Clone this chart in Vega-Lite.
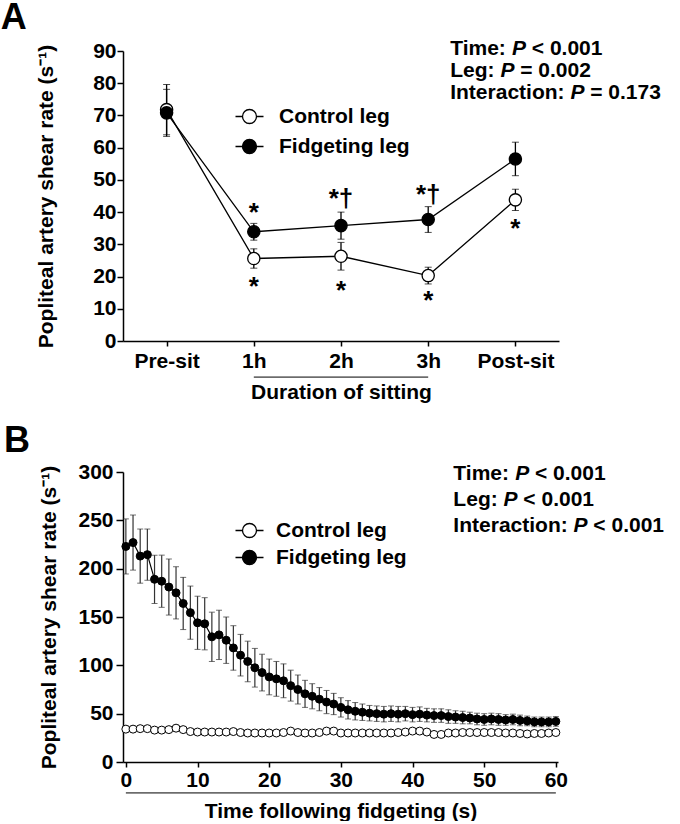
{
  "$schema": "https://vega.github.io/schema/vega-lite/v6.json",
  "background": "white",
  "padding": {"left": 0, "top": 0, "right": 0, "bottom": 0},
  "spacing": 21,
  "config": {
    "font": "Liberation Sans",
    "view": {"stroke": null},
    "axis": {
      "labelFont": "Liberation Sans", "labelFontWeight": "bold", "labelFontSize": 21, "labelColor": "black",
      "titleFont": "Liberation Sans", "titleFontWeight": "bold", "titleFontSize": 21, "titleColor": "black",
      "domainColor": "black", "domainWidth": 1.5, "tickColor": "black", "tickWidth": 1.5, "grid": false,
      "labelOverlap": false, "labelFlush": false
    },
    "legend": {
      "orient": "none", "title": null, "padding": 0,
      "symbolType": "M-2,0H-1M1,0H2M-1,0A1,1 0 1,0 1,0A1,1 0 1,0 -1,0Z",
      "symbolSize": 196, "symbolStrokeColor": "black", "symbolStrokeWidth": 1.3,
      "labelFont": "Liberation Sans", "labelFontWeight": "bold", "labelFontSize": 21, "labelColor": "black"
    }
  },
  "resolve": {"scale": {"fill": "independent"}, "legend": {"fill": "independent"}},
  "datasets": {
    "panelA": [
      {"time": "Pre-sit", "leg": "Control leg", "value": 71.8, "sem": 7.8},
      {"time": "1h", "leg": "Control leg", "value": 25.6, "sem": 3.0},
      {"time": "2h", "leg": "Control leg", "value": 26.3, "sem": 4.3},
      {"time": "3h", "leg": "Control leg", "value": 20.3, "sem": 2.6},
      {"time": "Post-sit", "leg": "Control leg", "value": 43.8, "sem": 3.3},
      {"time": "Pre-sit", "leg": "Fidgeting leg", "value": 70.8, "sem": 7.3},
      {"time": "1h", "leg": "Fidgeting leg", "value": 33.9, "sem": 2.6},
      {"time": "2h", "leg": "Fidgeting leg", "value": 35.8, "sem": 4.2},
      {"time": "3h", "leg": "Fidgeting leg", "value": 37.7, "sem": 4.0},
      {"time": "Post-sit", "leg": "Fidgeting leg", "value": 56.5, "sem": 5.2}
    ],
    "starsA": [
      {"time": "1h", "value": 39.6, "label": "*"},
      {"time": "1h", "value": 16.8, "label": "*"},
      {"time": "2h", "value": 44.2, "label": "*†"},
      {"time": "2h", "value": 15.6, "label": "*"},
      {"time": "3h", "value": 45.2, "label": "*†"},
      {"time": "3h", "value": 12.5, "label": "*"},
      {"time": "Post-sit", "value": 34.8, "label": "*"}
    ],
    "panelB": [
      {"t": 0, "leg": "Control leg", "value": 34, "sem": 2},
      {"t": 1, "leg": "Control leg", "value": 34, "sem": 2},
      {"t": 2, "leg": "Control leg", "value": 34.5, "sem": 2},
      {"t": 3, "leg": "Control leg", "value": 34.5, "sem": 2},
      {"t": 4, "leg": "Control leg", "value": 33, "sem": 2},
      {"t": 5, "leg": "Control leg", "value": 33, "sem": 2},
      {"t": 6, "leg": "Control leg", "value": 33.5, "sem": 2},
      {"t": 7, "leg": "Control leg", "value": 35, "sem": 2},
      {"t": 8, "leg": "Control leg", "value": 33.5, "sem": 2},
      {"t": 9, "leg": "Control leg", "value": 31.5, "sem": 2},
      {"t": 10, "leg": "Control leg", "value": 31, "sem": 2},
      {"t": 11, "leg": "Control leg", "value": 31, "sem": 2},
      {"t": 12, "leg": "Control leg", "value": 31, "sem": 2},
      {"t": 13, "leg": "Control leg", "value": 31, "sem": 2},
      {"t": 14, "leg": "Control leg", "value": 31, "sem": 2},
      {"t": 15, "leg": "Control leg", "value": 31.5, "sem": 2},
      {"t": 16, "leg": "Control leg", "value": 30.5, "sem": 2},
      {"t": 17, "leg": "Control leg", "value": 30, "sem": 2},
      {"t": 18, "leg": "Control leg", "value": 30, "sem": 2},
      {"t": 19, "leg": "Control leg", "value": 30, "sem": 2},
      {"t": 20, "leg": "Control leg", "value": 30, "sem": 2},
      {"t": 21, "leg": "Control leg", "value": 30, "sem": 2},
      {"t": 22, "leg": "Control leg", "value": 30.5, "sem": 2},
      {"t": 23, "leg": "Control leg", "value": 32, "sem": 2},
      {"t": 24, "leg": "Control leg", "value": 30.5, "sem": 2},
      {"t": 25, "leg": "Control leg", "value": 30, "sem": 2},
      {"t": 26, "leg": "Control leg", "value": 30, "sem": 2},
      {"t": 27, "leg": "Control leg", "value": 30.5, "sem": 2},
      {"t": 28, "leg": "Control leg", "value": 32, "sem": 2},
      {"t": 29, "leg": "Control leg", "value": 32, "sem": 2},
      {"t": 30, "leg": "Control leg", "value": 30, "sem": 2},
      {"t": 31, "leg": "Control leg", "value": 30, "sem": 2},
      {"t": 32, "leg": "Control leg", "value": 30, "sem": 2},
      {"t": 33, "leg": "Control leg", "value": 30, "sem": 2},
      {"t": 34, "leg": "Control leg", "value": 30, "sem": 2},
      {"t": 35, "leg": "Control leg", "value": 30, "sem": 2},
      {"t": 36, "leg": "Control leg", "value": 30, "sem": 2},
      {"t": 37, "leg": "Control leg", "value": 30, "sem": 2},
      {"t": 38, "leg": "Control leg", "value": 30.5, "sem": 2},
      {"t": 39, "leg": "Control leg", "value": 31, "sem": 2},
      {"t": 40, "leg": "Control leg", "value": 32, "sem": 2},
      {"t": 41, "leg": "Control leg", "value": 32, "sem": 2},
      {"t": 42, "leg": "Control leg", "value": 31, "sem": 2},
      {"t": 43, "leg": "Control leg", "value": 28.5, "sem": 2},
      {"t": 44, "leg": "Control leg", "value": 28.5, "sem": 2},
      {"t": 45, "leg": "Control leg", "value": 30, "sem": 2},
      {"t": 46, "leg": "Control leg", "value": 30, "sem": 2},
      {"t": 47, "leg": "Control leg", "value": 30.5, "sem": 2},
      {"t": 48, "leg": "Control leg", "value": 30.5, "sem": 2},
      {"t": 49, "leg": "Control leg", "value": 30.5, "sem": 2},
      {"t": 50, "leg": "Control leg", "value": 30.5, "sem": 2},
      {"t": 51, "leg": "Control leg", "value": 30.5, "sem": 2},
      {"t": 52, "leg": "Control leg", "value": 30.5, "sem": 2},
      {"t": 53, "leg": "Control leg", "value": 30, "sem": 2},
      {"t": 54, "leg": "Control leg", "value": 30, "sem": 2},
      {"t": 55, "leg": "Control leg", "value": 29.5, "sem": 2},
      {"t": 56, "leg": "Control leg", "value": 29, "sem": 2},
      {"t": 57, "leg": "Control leg", "value": 29.5, "sem": 2},
      {"t": 58, "leg": "Control leg", "value": 29.5, "sem": 2},
      {"t": 59, "leg": "Control leg", "value": 30, "sem": 2},
      {"t": 60, "leg": "Control leg", "value": 30.5, "sem": 2},
      {"t": 0, "leg": "Fidgeting leg", "value": 223, "sem": 28.5},
      {"t": 1, "leg": "Fidgeting leg", "value": 227, "sem": 28.5},
      {"t": 2, "leg": "Fidgeting leg", "value": 213, "sem": 28},
      {"t": 3, "leg": "Fidgeting leg", "value": 214.5, "sem": 26.5},
      {"t": 4, "leg": "Fidgeting leg", "value": 189, "sem": 25},
      {"t": 5, "leg": "Fidgeting leg", "value": 187, "sem": 27},
      {"t": 6, "leg": "Fidgeting leg", "value": 181, "sem": 29},
      {"t": 7, "leg": "Fidgeting leg", "value": 175, "sem": 27},
      {"t": 8, "leg": "Fidgeting leg", "value": 164, "sem": 27},
      {"t": 9, "leg": "Fidgeting leg", "value": 154.5, "sem": 27.5},
      {"t": 10, "leg": "Fidgeting leg", "value": 144, "sem": 27.5},
      {"t": 11, "leg": "Fidgeting leg", "value": 143, "sem": 27},
      {"t": 12, "leg": "Fidgeting leg", "value": 129.5, "sem": 25.5},
      {"t": 13, "leg": "Fidgeting leg", "value": 131.5, "sem": 25.5},
      {"t": 14, "leg": "Fidgeting leg", "value": 126, "sem": 24},
      {"t": 15, "leg": "Fidgeting leg", "value": 118, "sem": 23},
      {"t": 16, "leg": "Fidgeting leg", "value": 110.5, "sem": 21.5},
      {"t": 17, "leg": "Fidgeting leg", "value": 104, "sem": 21},
      {"t": 18, "leg": "Fidgeting leg", "value": 97.5, "sem": 20},
      {"t": 19, "leg": "Fidgeting leg", "value": 92.5, "sem": 19},
      {"t": 20, "leg": "Fidgeting leg", "value": 88, "sem": 18.5},
      {"t": 21, "leg": "Fidgeting leg", "value": 86, "sem": 18},
      {"t": 22, "leg": "Fidgeting leg", "value": 84, "sem": 17.5},
      {"t": 23, "leg": "Fidgeting leg", "value": 79, "sem": 16},
      {"t": 24, "leg": "Fidgeting leg", "value": 75, "sem": 15},
      {"t": 25, "leg": "Fidgeting leg", "value": 70.5, "sem": 14},
      {"t": 26, "leg": "Fidgeting leg", "value": 68, "sem": 13},
      {"t": 27, "leg": "Fidgeting leg", "value": 65, "sem": 12},
      {"t": 28, "leg": "Fidgeting leg", "value": 62, "sem": 12},
      {"t": 29, "leg": "Fidgeting leg", "value": 60, "sem": 11},
      {"t": 30, "leg": "Fidgeting leg", "value": 56.5, "sem": 10},
      {"t": 31, "leg": "Fidgeting leg", "value": 54, "sem": 9.5},
      {"t": 32, "leg": "Fidgeting leg", "value": 52.5, "sem": 9},
      {"t": 33, "leg": "Fidgeting leg", "value": 51.5, "sem": 8.5},
      {"t": 34, "leg": "Fidgeting leg", "value": 50.5, "sem": 8},
      {"t": 35, "leg": "Fidgeting leg", "value": 50, "sem": 8},
      {"t": 36, "leg": "Fidgeting leg", "value": 49.5, "sem": 8},
      {"t": 37, "leg": "Fidgeting leg", "value": 50, "sem": 8},
      {"t": 38, "leg": "Fidgeting leg", "value": 49.5, "sem": 8},
      {"t": 39, "leg": "Fidgeting leg", "value": 50, "sem": 7.5},
      {"t": 40, "leg": "Fidgeting leg", "value": 49, "sem": 7.5},
      {"t": 41, "leg": "Fidgeting leg", "value": 49.5, "sem": 7.5},
      {"t": 42, "leg": "Fidgeting leg", "value": 48.5, "sem": 7},
      {"t": 43, "leg": "Fidgeting leg", "value": 48, "sem": 7},
      {"t": 44, "leg": "Fidgeting leg", "value": 48, "sem": 7},
      {"t": 45, "leg": "Fidgeting leg", "value": 47, "sem": 7},
      {"t": 46, "leg": "Fidgeting leg", "value": 46.5, "sem": 6.5},
      {"t": 47, "leg": "Fidgeting leg", "value": 46, "sem": 6.5},
      {"t": 48, "leg": "Fidgeting leg", "value": 45.5, "sem": 6},
      {"t": 49, "leg": "Fidgeting leg", "value": 44.5, "sem": 6},
      {"t": 50, "leg": "Fidgeting leg", "value": 44, "sem": 6},
      {"t": 51, "leg": "Fidgeting leg", "value": 44.5, "sem": 6},
      {"t": 52, "leg": "Fidgeting leg", "value": 44, "sem": 6},
      {"t": 53, "leg": "Fidgeting leg", "value": 43.5, "sem": 5.5},
      {"t": 54, "leg": "Fidgeting leg", "value": 44, "sem": 5.5},
      {"t": 55, "leg": "Fidgeting leg", "value": 43, "sem": 5.5},
      {"t": 56, "leg": "Fidgeting leg", "value": 42.5, "sem": 5},
      {"t": 57, "leg": "Fidgeting leg", "value": 41.5, "sem": 5},
      {"t": 58, "leg": "Fidgeting leg", "value": 41.5, "sem": 5},
      {"t": 59, "leg": "Fidgeting leg", "value": 41.5, "sem": 5},
      {"t": 60, "leg": "Fidgeting leg", "value": 42, "sem": 5}
    ]
  },
  "vconcat": [
    {
      "width": 436,
      "height": 290,
      "title": {"text": "A", "anchor": "start", "frame": "bounds", "fontSize": 36, "fontWeight": "bold", "font": "Liberation Sans", "color": "black", "dx": -35, "offset": 1},
      "layer": [
        {
          "data": {"name": "panelA"},
          "encoding": {
            "x": {"field": "time", "type": "ordinal", "scale": {"type": "point", "domain": ["Pre-sit", "1h", "2h", "3h", "Post-sit"], "padding": 0.5},
                  "axis": {"title": "Duration of sitting", "labelAngle": 0, "tickSize": 5, "labelPadding": 4, "titlePadding": 10}},
            "y": {"field": "value", "type": "quantitative", "scale": {"domain": [0, 90], "nice": false},
                  "axis": {"title": "Popliteal artery shear rate (s⁻¹)", "values": [0, 10, 20, 30, 40, 50, 60, 70, 80, 90], "tickCount": 10, "tickSize": 6, "labelPadding": 1, "titlePadding": 36}}
          },
          "layer": [
            {
              "mark": {"type": "line", "color": "black", "strokeWidth": 1.3},
              "encoding": {"detail": {"field": "leg"}}
            },
            {
              "mark": {"type": "errorbar", "ticks": {"size": 7, "color": "black", "strokeWidth": 1.3}, "rule": {"color": "black", "strokeWidth": 1.3}},
              "encoding": {"yError": {"field": "sem"}}
            },
            {
              "mark": {"type": "point", "shape": "circle", "filled": true, "size": 150, "stroke": "black", "strokeWidth": 1.3, "opacity": 1},
              "encoding": {
                "fill": {"field": "leg", "type": "nominal", "scale": {"domain": ["Control leg", "Fidgeting leg"], "range": ["white", "black"]},
                         "legend": {"legendX": 116, "legendY": 55, "rowPadding": 8, "labelOffset": 19}}
              }
            },
            {
              "data": {"name": "starsA"},
              "mark": {"type": "text", "fontSize": 26, "fontWeight": "bold", "font": "Liberation Sans", "color": "black", "baseline": "middle", "align": "center"},
              "encoding": {"text": {"field": "label"}}
            }
          ]
        },
        {
          "data": {"values": [{}]},
          "layer": [
            {
              "mark": {"type": "rule", "color": "black", "strokeWidth": 1},
              "encoding": {"x": {"datum": "1h", "type": "ordinal"}, "x2": {"datum": "3h"}, "y": {"datum": -11.2, "type": "quantitative"}}
            },
            {"mark": {"type": "text", "text": "Time:", "align": "left", "baseline": "middle", "fontSize": 21, "fontWeight": "bold", "dx": 22},
             "encoding": {"x": {"datum": "3h", "type": "ordinal"}, "y": {"datum": 90.6, "type": "quantitative"}}},
            {"mark": {"type": "text", "text": "P", "align": "left", "baseline": "middle", "fontSize": 21, "fontWeight": "bold", "fontStyle": "italic", "dx": 83.8},
             "encoding": {"x": {"datum": "3h", "type": "ordinal"}, "y": {"datum": 90.6, "type": "quantitative"}}},
            {"mark": {"type": "text", "text": "< 0.001", "align": "left", "baseline": "middle", "fontSize": 21, "fontWeight": "bold", "dx": 103.6},
             "encoding": {"x": {"datum": "3h", "type": "ordinal"}, "y": {"datum": 90.6, "type": "quantitative"}}},
            {"mark": {"type": "text", "text": "Leg:", "align": "left", "baseline": "middle", "fontSize": 21, "fontWeight": "bold", "dx": 22},
             "encoding": {"x": {"datum": "3h", "type": "ordinal"}, "y": {"datum": 83.8, "type": "quantitative"}}},
            {"mark": {"type": "text", "text": "P", "align": "left", "baseline": "middle", "fontSize": 21, "fontWeight": "bold", "fontStyle": "italic", "dx": 72.2},
             "encoding": {"x": {"datum": "3h", "type": "ordinal"}, "y": {"datum": 83.8, "type": "quantitative"}}},
            {"mark": {"type": "text", "text": "= 0.002", "align": "left", "baseline": "middle", "fontSize": 21, "fontWeight": "bold", "dx": 92.0},
             "encoding": {"x": {"datum": "3h", "type": "ordinal"}, "y": {"datum": 83.8, "type": "quantitative"}}},
            {"mark": {"type": "text", "text": "Interaction:", "align": "left", "baseline": "middle", "fontSize": 21, "fontWeight": "bold", "dx": 22},
             "encoding": {"x": {"datum": "3h", "type": "ordinal"}, "y": {"datum": 77.0, "type": "quantitative"}}},
            {"mark": {"type": "text", "text": "P", "align": "left", "baseline": "middle", "fontSize": 21, "fontWeight": "bold", "fontStyle": "italic", "dx": 142.2},
             "encoding": {"x": {"datum": "3h", "type": "ordinal"}, "y": {"datum": 77.0, "type": "quantitative"}}},
            {"mark": {"type": "text", "text": "= 0.173", "align": "left", "baseline": "middle", "fontSize": 21, "fontWeight": "bold", "dx": 162.0},
             "encoding": {"x": {"datum": "3h", "type": "ordinal"}, "y": {"datum": 77.0, "type": "quantitative"}}}
          ]
        }
      ]
    },
    {
      "width": 435,
      "height": 290,
      "title": {"text": "B", "anchor": "start", "frame": "bounds", "fontSize": 36, "fontWeight": "bold", "font": "Liberation Sans", "color": "black", "dx": -35, "offset": 1},
      "layer": [
        {
          "data": {"name": "panelB"},
          "encoding": {
            "x": {"field": "t", "type": "quantitative", "scale": {"domain": [-0.4, 60.3], "nice": false, "zero": false},
                  "axis": {"title": "Time following fidgeting (s)", "values": [0, 10, 20, 30, 40, 50, 60], "tickSize": 5, "labelPadding": 2, "titlePadding": 10}},
            "y": {"field": "value", "type": "quantitative", "scale": {"domain": [0, 300], "nice": false},
                  "axis": {"title": "Popliteal artery shear rate (s⁻¹)", "values": [0, 50, 100, 150, 200, 250, 300], "tickSize": 7, "labelPadding": 3, "titlePadding": 18}}
          },
          "layer": [
            {
              "mark": {"type": "line", "color": "black", "strokeWidth": 1.2},
              "encoding": {"detail": {"field": "leg"}}
            },
            {
              "mark": {"type": "errorbar", "ticks": {"size": 6, "color": "#333333", "strokeWidth": 1.2}, "rule": {"color": "#333333", "strokeWidth": 1.2}},
              "encoding": {"yError": {"field": "sem"}}
            },
            {
              "mark": {"type": "point", "shape": "circle", "filled": true, "size": 64, "stroke": "black", "strokeWidth": 1, "opacity": 1},
              "encoding": {
                "fill": {"field": "leg", "type": "nominal", "scale": {"domain": ["Control leg", "Fidgeting leg"], "range": ["white", "black"]},
                         "legend": {"legendX": 116, "legendY": 48, "rowPadding": 5, "labelOffset": 16}}
              }
            }
          ]
        },
        {
          "data": {"values": [{}]},
          "layer": [
            {
              "mark": {"type": "rule", "color": "black", "strokeWidth": 1},
              "encoding": {"x": {"datum": 0, "type": "quantitative"}, "x2": {"datum": 60}, "y": {"datum": -32, "type": "quantitative"}}
            },
            {"mark": {"type": "text", "text": "Time:", "align": "left", "baseline": "middle", "fontSize": 21, "fontWeight": "bold"},
             "encoding": {"x": {"datum": 45.7, "type": "quantitative"}, "y": {"datum": 297.9, "type": "quantitative"}}},
            {"mark": {"type": "text", "text": "P", "align": "left", "baseline": "middle", "fontSize": 21, "fontWeight": "bold", "fontStyle": "italic", "dx": 61.8},
             "encoding": {"x": {"datum": 45.7, "type": "quantitative"}, "y": {"datum": 297.9, "type": "quantitative"}}},
            {"mark": {"type": "text", "text": "< 0.001", "align": "left", "baseline": "middle", "fontSize": 21, "fontWeight": "bold", "dx": 81.6},
             "encoding": {"x": {"datum": 45.7, "type": "quantitative"}, "y": {"datum": 297.9, "type": "quantitative"}}},
            {"mark": {"type": "text", "text": "Leg:", "align": "left", "baseline": "middle", "fontSize": 21, "fontWeight": "bold"},
             "encoding": {"x": {"datum": 45.7, "type": "quantitative"}, "y": {"datum": 271, "type": "quantitative"}}},
            {"mark": {"type": "text", "text": "P", "align": "left", "baseline": "middle", "fontSize": 21, "fontWeight": "bold", "fontStyle": "italic", "dx": 50.2},
             "encoding": {"x": {"datum": 45.7, "type": "quantitative"}, "y": {"datum": 271, "type": "quantitative"}}},
            {"mark": {"type": "text", "text": "< 0.001", "align": "left", "baseline": "middle", "fontSize": 21, "fontWeight": "bold", "dx": 70.0},
             "encoding": {"x": {"datum": 45.7, "type": "quantitative"}, "y": {"datum": 271, "type": "quantitative"}}},
            {"mark": {"type": "text", "text": "Interaction:", "align": "left", "baseline": "middle", "fontSize": 21, "fontWeight": "bold"},
             "encoding": {"x": {"datum": 45.7, "type": "quantitative"}, "y": {"datum": 244, "type": "quantitative"}}},
            {"mark": {"type": "text", "text": "P", "align": "left", "baseline": "middle", "fontSize": 21, "fontWeight": "bold", "fontStyle": "italic", "dx": 120.2},
             "encoding": {"x": {"datum": 45.7, "type": "quantitative"}, "y": {"datum": 244, "type": "quantitative"}}},
            {"mark": {"type": "text", "text": "< 0.001", "align": "left", "baseline": "middle", "fontSize": 21, "fontWeight": "bold", "dx": 140.0},
             "encoding": {"x": {"datum": 45.7, "type": "quantitative"}, "y": {"datum": 244, "type": "quantitative"}}}
          ]
        }
      ]
    }
  ]
}
